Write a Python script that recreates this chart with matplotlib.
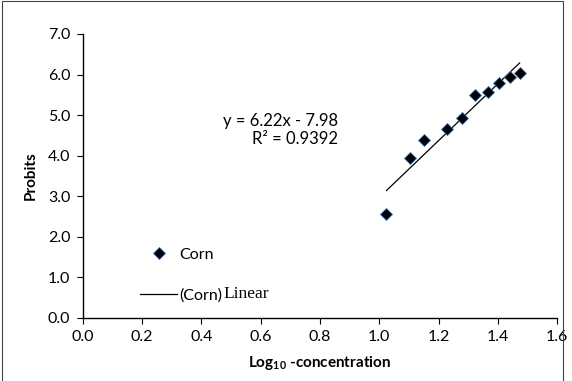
import numpy as np
import matplotlib
matplotlib.use("Agg")
import matplotlib.pyplot as plt
from matplotlib.patches import Rectangle

# values
log_conc = [1.024, 1.102, 1.152, 1.227, 1.279, 1.324, 1.366, 1.405, 1.441, 1.473]
probits = [2.56, 3.94, 4.38, 4.65, 4.92, 5.50, 5.58, 5.78, 5.93, 6.05]
eq_label = "y = 6.22x - 7.98\nR\u00b2 = 0.9392"
x_ticks = [0.0, 0.2, 0.4, 0.6, 0.8, 1.0, 1.2, 1.4, 1.6]
y_ticks = [0.0, 1.0, 2.0, 3.0, 4.0, 5.0, 6.0, 7.0]

plt.rcParams['font.family'] = ['Lato', 'DejaVu Sans']
plt.rcParams['mathtext.fontset'] = 'custom'
plt.rcParams['mathtext.rm'] = 'Lato'
plt.rcParams['mathtext.bf'] = 'Lato:bold'

fig = plt.figure(figsize=(5.72, 3.81), dpi=100)
ax = fig.add_axes([0.1446, 0.1654, 0.8297, 0.7454])

x = np.array(log_conc)
y = np.array(probits)
slope, intercept = np.polyfit(x, y, 1)
xs = np.array([x.min(), x.max()])

ax.plot(x, y, linestyle='none', marker='D', ms=6.5, color='black',
        markeredgecolor='#3d6fa8', markeredgewidth=0.6, label='Corn', zorder=3)
ax.plot(xs, slope * xs + intercept, color='black', lw=0.9, label='(Corn)', zorder=2)

ax.set_xlim(0, 1.6)
ax.set_ylim(0, 7)
ax.set_xticks(x_ticks)
ax.set_xticklabels([f"{v:.1f}" for v in x_ticks])
ax.set_yticks(y_ticks)
ax.set_yticklabels([f"{v:.1f}" for v in y_ticks])
ax.tick_params(direction='out', length=4, width=0.8, labelsize=11.5, colors='black', pad=5)
for side in ['top', 'right']:
    ax.spines[side].set_visible(False)
for side in ['left', 'bottom']:
    ax.spines[side].set_linewidth(1.0)

ax.set_xlabel("Log$_{\\mathbf{10}}$ -concentration", fontsize=11, fontweight='bold', labelpad=7)
ax.set_ylabel("Probits", fontsize=11, fontweight='bold', labelpad=7)

ax.text(0.538, 0.662, eq_label, transform=ax.transAxes, ha='right', va='center',
        multialignment='right', fontsize=12, linespacing=1.2)

leg = ax.legend(loc='upper left', bbox_to_anchor=(0.121, 0.248), frameon=False,
                borderpad=0, borderaxespad=0, handlelength=2.3, handletextpad=0.15,
                labelspacing=1.65, fontsize=11.5, numpoints=1)
txt = leg.get_texts()[1]
ax.annotate("Linear", xy=(1, 0), xycoords=txt, xytext=(1, 0), textcoords='offset points',
            ha='left', va='bottom', fontsize=12.5, family='Liberation Serif', zorder=10)

fig.patches.append(Rectangle((0.003, -0.01), 0.981, 1.007, transform=fig.transFigure,
                             fill=False, edgecolor='#444444', lw=0.8))

fig.savefig("out.png", dpi=100)
